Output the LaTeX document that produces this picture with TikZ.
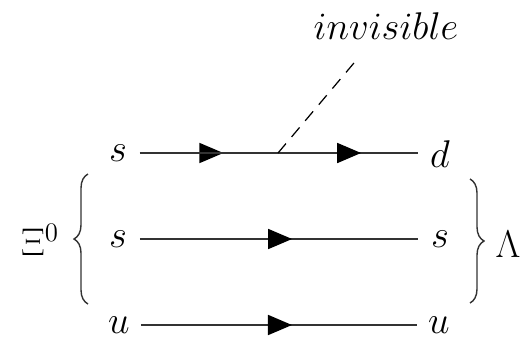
\documentclass[tikz,border=0pt]{standalone}
\usepackage{amsmath,amssymb}
\usepackage{graphicx}
\usepackage{xcolor}
\usetikzlibrary{arrows.meta,decorations.markings,decorations.pathreplacing}

\newcommand{\lbl}[1]{\scalebox{1.06}{\huge\(#1\)}}
\tikzset{
  quark/.style={inner sep=0pt,minimum width=0.86cm,text height=10pt,text depth=0pt},
  flavor/.style={line width=1pt,color=black!80,postaction={decorate},decoration={markings,
      mark=at position #1 with {\arrow[black]{Triangle[length=0.48cm,width=0.4cm]}}}},
  flavor/.default=0.547,
  bracket/.style={line width=0.8pt,color=black!80,decorate,decoration={brace,amplitude=0.28cm}}
}

\begin{document}
\begin{tikzpicture}
  \useasboundingbox (0,0) rectangle (10.52,6.92);
  % quark labels
  \node[quark] (s1) at (2.36,3.86) {\lbl{s}};
  \node[quark] (s2) at (2.36,2.14) {\lbl{s}};
  \node[quark] (u1) at (2.38,0.42) {\lbl{u}};
  \node[quark,text height=17pt] (d3) at (8.80,3.86) {\lbl{d}};
  \node[quark] (s4) at (8.80,2.14) {\lbl{s}};
  \node[quark] (u4) at (8.78,0.42) {\lbl{u}};
  % quark lines
  \draw[flavor=0.30] (s1) -- (d3);
  \draw[flavor=0.795] (s1) -- (d3);
  \draw[flavor] (s2) -- (s4);
  \draw[flavor] (u1) -- (u4);
  % emission
  \coordinate (vertex) at (5.56,3.86);
  \coordinate (tail) at (7.18,5.78);
  \draw[line width=0.7pt,dash pattern=on 7pt off 5pt] (vertex) -- (tail);
  \node[inner sep=0pt] (inv) at (7.72,6.40) {\lbl{invisible}};
  % hadrons
  \coordinate (xitop) at (1.76,3.44);
  \coordinate (xibot) at (1.76,0.84);
  \coordinate (lamtop) at (9.40,3.34);
  \coordinate (lambot) at (9.40,0.86);
  \draw[bracket] (xibot) -- (xitop);
  \draw[bracket] (lamtop) -- (lambot);
  \node[inner sep=0pt] (xi) at (0.80,2.12) {\lbl{\Xi^0}};
  \node[inner sep=0pt] (lam) at (10.16,2.04) {\lbl{\Lambda}};
\end{tikzpicture}
\end{document}
